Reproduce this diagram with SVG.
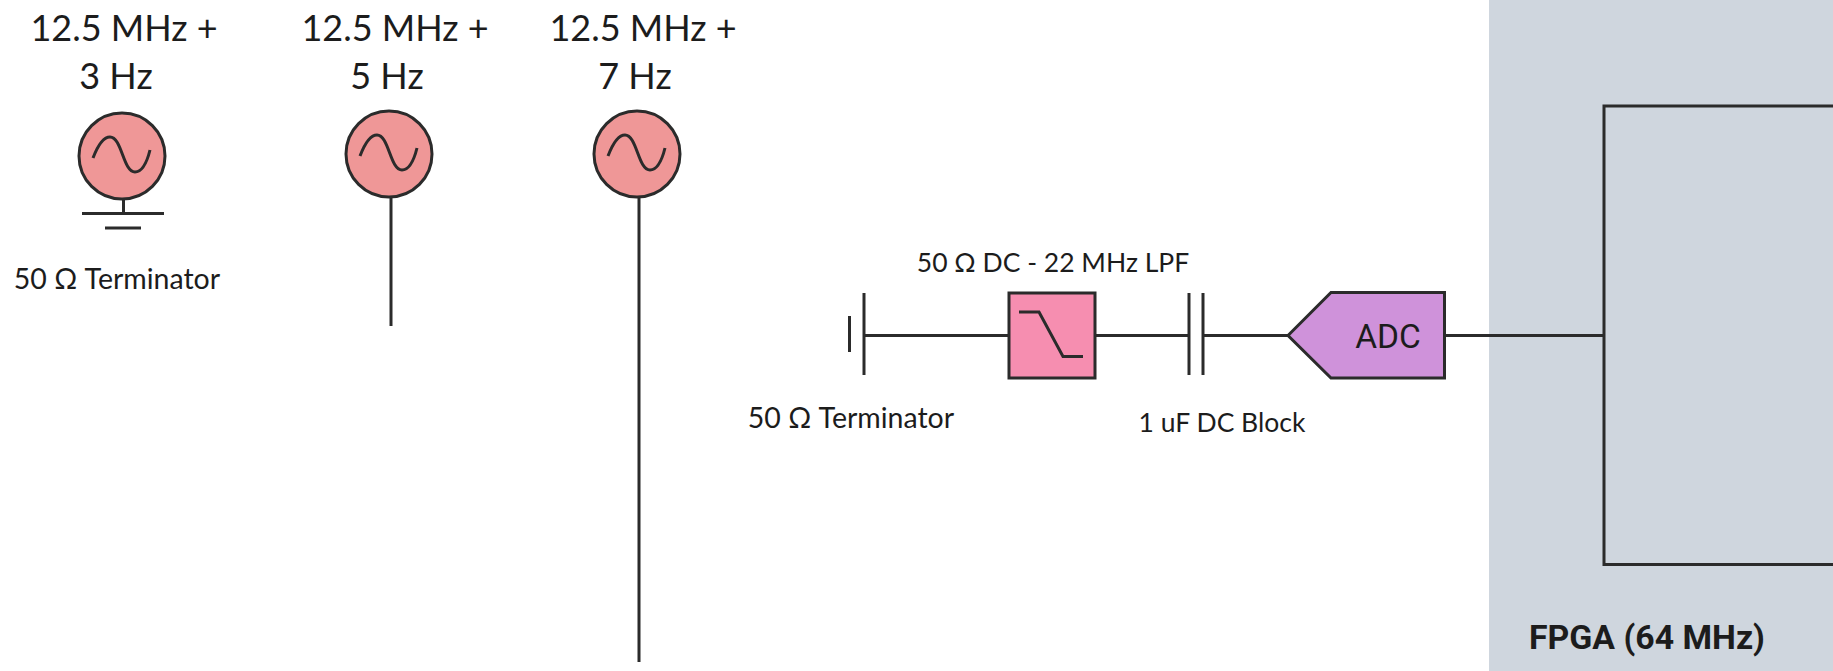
<svg xmlns="http://www.w3.org/2000/svg" width="1833" height="671" viewBox="0 0 1833 671">
<style>
.w{stroke:#2b2b2b;stroke-width:3;fill:none}
.o{stroke:#2b2b2b;stroke-width:3}
.src{fill:#ef9797}
.t{font-family:"Lato","Liberation Sans",sans-serif;fill:#1c1c1c;text-anchor:middle}
.big{font-size:36px}
.sm{font-size:26.500px}
.term{font-size:28.500px}
</style>
<rect width="1833" height="671" fill="#fff"/>
<g id="fpga">
<rect x="1489" y="0" width="344" height="671" fill="#cfd6de"/>
<rect class="w" x="1604" y="106" width="240" height="458.500"/>
<text x="1529" y="649" font-family="Roboto,'Liberation Sans',sans-serif" font-weight="700" font-size="33.800px" fill="#1c1c1c">FPGA (64 MHz)</text>
</g>
<g id="connectors">
<line class="w" x1="123.500" y1="199" x2="123.500" y2="213"/>
<line class="w" x1="391" y1="197" x2="391" y2="326"/>
<line class="w" x1="639" y1="197" x2="639" y2="662"/>
<line class="w" x1="864" y1="335.500" x2="1009" y2="335.500"/>
<line class="w" x1="1095" y1="335.500" x2="1189" y2="335.500"/>
<line class="w" x1="1203" y1="335.500" x2="1288" y2="335.500"/>
<line class="w" x1="1444" y1="335.500" x2="1604" y2="335.500"/>
</g>
<g id="source-3hz">
<circle class="o src" cx="122" cy="156" r="43"/>
<path class="w" d="M93 158C98 145 104 137 110 137C122 137 123 172 135 172C142 172 147 162 150 150"/>
<text class="t big" x="124" y="41">12.5 MHz +</text>
<text class="t big" x="116" y="89">3 Hz</text>
</g>
<g id="ground">
<line class="w" x1="82" y1="213.500" x2="164" y2="213.500"/>
<line class="w" x1="105" y1="228" x2="141" y2="228"/>
<text class="t term" x="117" y="289">50 Ω Terminator</text>
</g>
<g id="source-5hz">
<circle class="o src" cx="389" cy="154" r="43"/>
<path class="w" d="M360 156C365 143 371 135 377 135C389 135 390 170 402 170C409 170 414 160 417 148"/>
<text class="t big" x="395" y="41">12.5 MHz +</text>
<text class="t big" x="387" y="89">5 Hz</text>
</g>
<g id="source-7hz">
<circle class="o src" cx="637" cy="154" r="43"/>
<path class="w" d="M608 156C613 143 619 135 625 135C637 135 638 170 650 170C657 170 662 160 665 148"/>
<text class="t big" x="643" y="41">12.5 MHz +</text>
<text class="t big" x="635" y="89">7 Hz</text>
</g>
<g id="terminator">
<line class="w" x1="864" y1="293" x2="864" y2="375"/>
<line class="w" x1="849.500" y1="316" x2="849.500" y2="352"/>
<text class="t term" x="851" y="428">50 Ω Terminator</text>
</g>
<g id="lpf">
<rect class="o" x="1009" y="293" width="86" height="85" fill="#f68eb0"/>
<path class="w" d="M1019 312H1039L1063 356.500H1083"/>
<text class="t sm" x="1053" y="272">50 Ω DC - 22 MHz LPF</text>
</g>
<g id="dc-block">
<line class="w" x1="1189" y1="293" x2="1189" y2="375"/>
<line class="w" x1="1203" y1="293" x2="1203" y2="375"/>
<text class="t sm" x="1222" y="432">1 uF DC Block</text>
</g>
<g id="adc">
<path class="o" d="M1288 335.500L1331 292.500H1444.500V378H1331Z" fill="#cf92da"/>
<text x="1388" y="347.500" text-anchor="middle" font-family="Roboto,'Liberation Sans',sans-serif" font-size="33.500px" fill="#1c1c1c">ADC</text>
</g>
</svg>
